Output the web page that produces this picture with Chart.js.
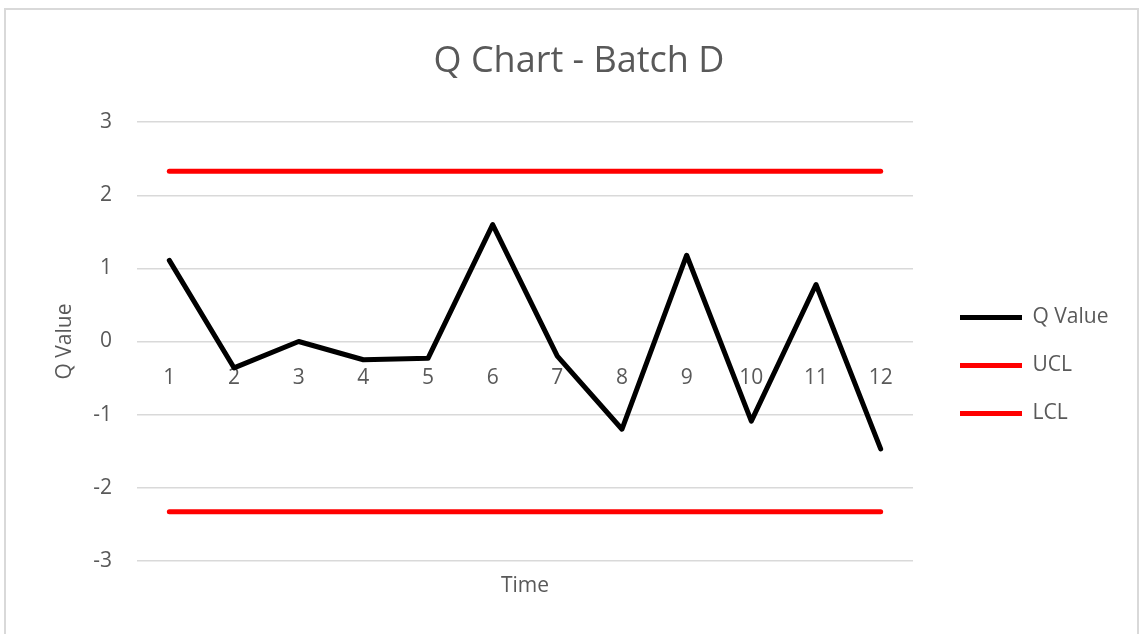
<!DOCTYPE html>
<html>
<head>
<meta charset="utf-8">
<script src="https://cdn.jsdelivr.net/npm/chart.js@4/dist/chart.umd.min.js"></script>
<style>
  html, body { margin: 0; padding: 0; background: #fff; overflow: hidden; }
  #chart { position: absolute; left: 0; top: 0; }
  .frame {
    position: absolute; left: 4px; top: 8px; width: 1135px; height: 700px;
    border: 2px solid #d9d9d9; box-sizing: border-box; pointer-events: none;
  }
</style>
</head>
<body>
<canvas id="chart" width="1139" height="634"></canvas>
<div class="frame"></div>
<script>
  "use strict";

  const labels = ["1", "2", "3", "4", "5", "6", "7", "8", "9", "10", "11", "12"];
  const qValues = [1.11, -0.36, 0.0, -0.25, -0.23, 1.6, -0.2, -1.2, 1.18, -1.09, 0.78, -1.47];
  const uclValues = [2.33, 2.33, 2.33, 2.33, 2.33, 2.33, 2.33, 2.33, 2.33, 2.33, 2.33, 2.33];
  const lclValues = [-2.33, -2.33, -2.33, -2.33, -2.33, -2.33, -2.33, -2.33, -2.33, -2.33, -2.33, -2.33];
  const yTicks = [-3, -2, -1, 0, 1, 2, 3];

  const TEXT = "#595959";
  const FONT = "'Open Sans', sans-serif";

  const lineSet = (label, data, color) => ({
    label: label,
    data: data,
    borderColor: color,
    backgroundColor: color,
    borderWidth: 5,
    borderCapStyle: "round",
    borderJoinStyle: "round",
    pointRadius: 0,
    tension: 0,
    fill: false,
  });

  const ctx = document.getElementById("chart").getContext("2d");
  new Chart(ctx, {
    type: "line",
    data: {
      labels: labels,
      datasets: [
        lineSet("Q Value", qValues, "#000000"),
        lineSet("UCL", uclValues, "#ff0000"),
        lineSet("LCL", lclValues, "#ff0000"),
      ],
    },
    options: {
      responsive: false,
      animation: false,
      events: [],
      layout: { padding: { left: 48, right: 29, top: 0, bottom: 35 } },
      plugins: {
        tooltip: { enabled: false },
        title: {
          display: true,
          text: "Q Chart - Batch D",
          color: TEXT,
          font: { family: FONT, size: 36, weight: "normal" },
          padding: { top: 40, bottom: 39 },
        },
        legend: {
          position: "right",
          // empty title only pushes the items down to where Excel puts them
          title: { display: true, text: " ", font: { size: 10 }, padding: { top: 120, bottom: 0 } },
          labels: {
            color: TEXT,
            font: { family: FONT, size: 21 },
            usePointStyle: true,
            pointStyle: "line",
            pointStyleWidth: 62,
            padding: 27,
          },
        },
      },
      scales: {
        x: {
          type: "category",
          position: "bottom",
          offset: true,
          grid: { display: false, drawTicks: false },
          border: { display: false },
          ticks: { display: false },
          title: {
            display: true,
            text: "Time",
            color: TEXT,
            font: { family: FONT, size: 21 },
            padding: { top: 13, bottom: 0 },
          },
        },
        xLabels: {
          type: "category",
          position: { y: 0 },
          offset: true,
          grid: { display: false, drawTicks: false },
          border: { display: false },
          ticks: {
            color: TEXT,
            font: { family: FONT, size: 21 },
            padding: 24,
            maxRotation: 0,
            autoSkip: false,
          },
        },
        y: {
          min: yTicks[0],
          max: yTicks[yTicks.length - 1],
          afterBuildTicks: (scale) => {
            scale.ticks = yTicks.map((v) => ({ value: v }));
          },
          afterFit: (scale) => {
            scale.width = 89;
          },
          grid: { color: "#d9d9d9", lineWidth: 1.5, drawTicks: false },
          border: { display: false },
          ticks: {
            color: TEXT,
            font: { family: FONT, size: 21 },
            padding: 25,
          },
          title: {
            display: true,
            text: "Q Value",
            color: TEXT,
            font: { family: FONT, size: 21 },
            padding: { top: 4, bottom: 0 },
          },
        },
        gap: {
          type: "linear",
          position: "right",
          grid: { display: false, drawTicks: false },
          border: { display: false },
          ticks: { display: false },
          afterFit: (scale) => {
            scale.width = 20;
          },
        },
      },
    },
  });
</script>
</body>
</html>
